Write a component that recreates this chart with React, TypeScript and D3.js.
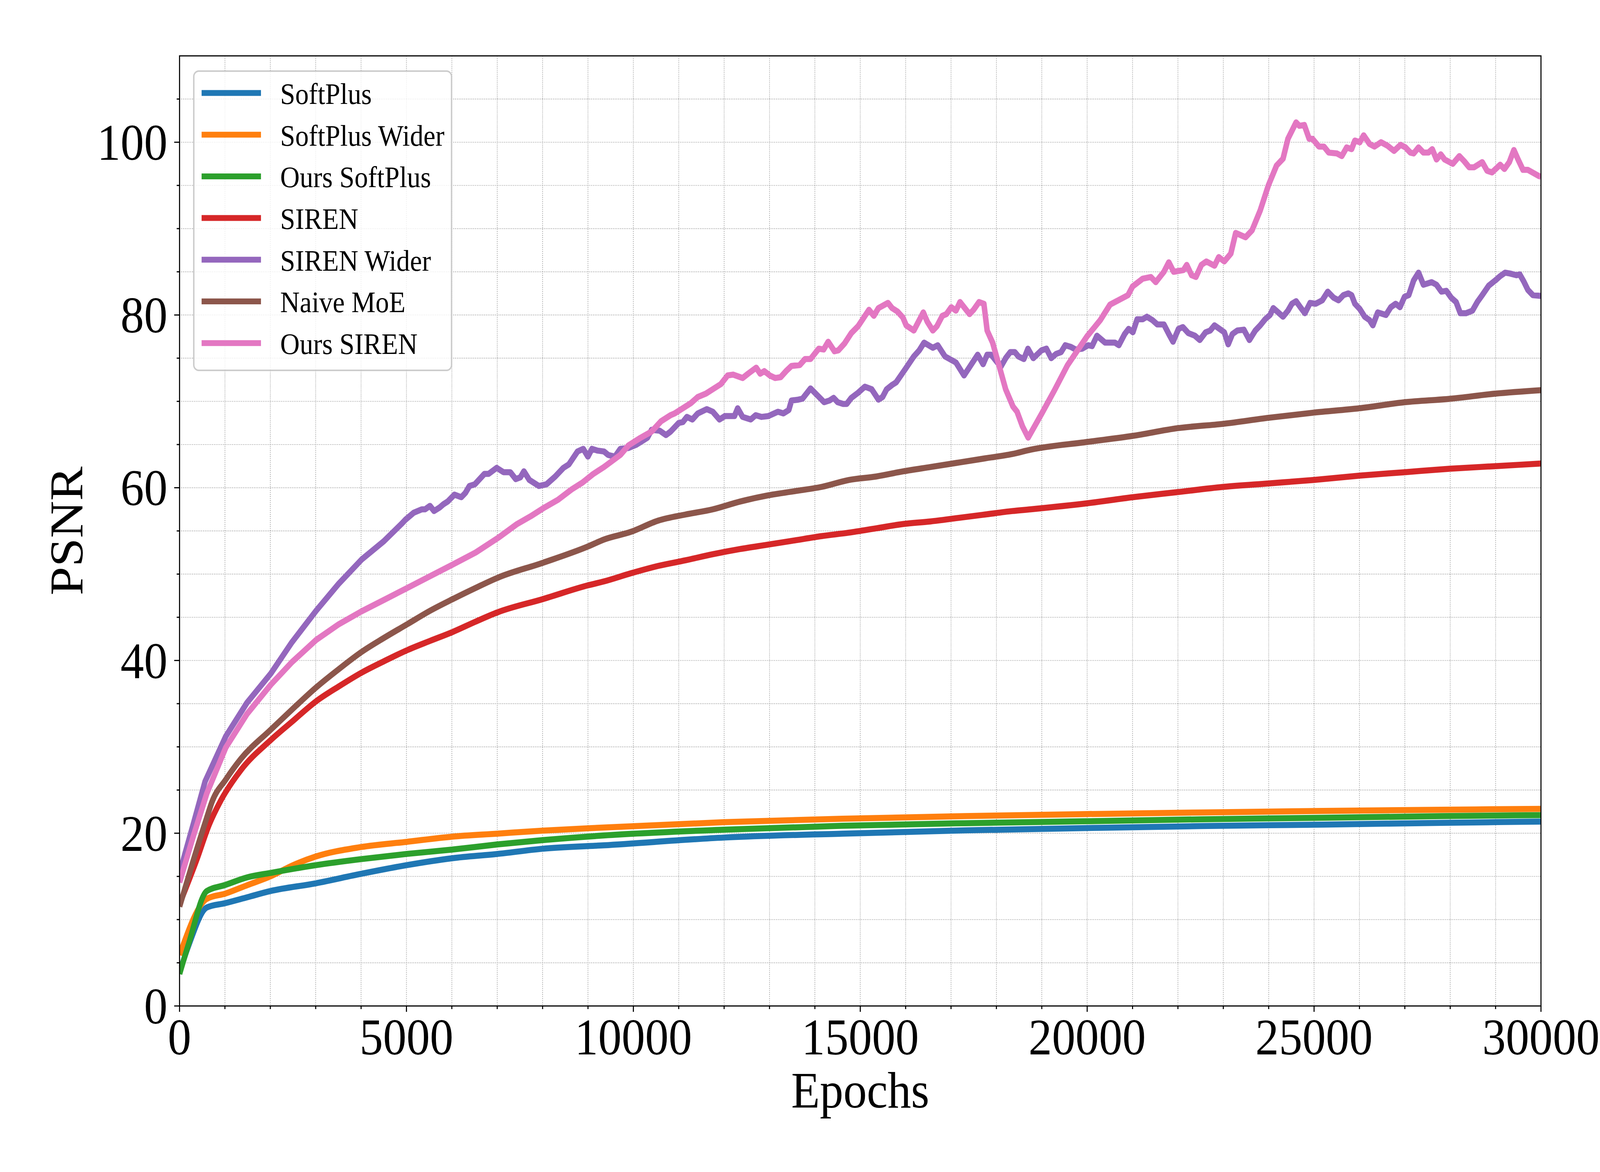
import * as d3 from "d3";

// PSNR vs epochs
const softPlus: [number, number][] = [
  [0, 3.9], [200, 7.0], [600, 11.4], [1000, 11.9], [1500, 12.6], [2000, 13.3], [3000, 14.2],
  [4000, 15.3], [5000, 16.3], [6000, 17.1], [7000, 17.6], [8000, 18.2], [9350, 18.6],
  [12000, 19.5], [14600, 19.95], [17300, 20.33], [19900, 20.59], [22500, 20.83],
  [25200, 21.0], [27800, 21.2], [30000, 21.35],
];

const softPlusWider: [number, number][] = [
  [0, 5.9], [600, 12.4], [1000, 13.0], [1500, 14.0], [2000, 15.0], [2500, 16.3], [3000, 17.3],
  [4000, 18.4], [5000, 19.0], [6000, 19.6], [7000, 19.95], [8000, 20.3], [9350, 20.66],
  [12000, 21.28], [14600, 21.68], [17300, 21.98], [19900, 22.21], [22500, 22.4],
  [25200, 22.58], [27800, 22.72], [30000, 22.82],
];

const oursSoftPlus: [number, number][] = [
  [0, 3.7], [200, 7.2], [600, 13.3], [1000, 14.0], [1500, 14.9], [2000, 15.4], [3000, 16.3],
  [4000, 17.0], [5000, 17.6], [6000, 18.1], [7000, 18.7], [8000, 19.2], [9350, 19.74],
  [12000, 20.41], [14600, 20.86], [17300, 21.16], [19900, 21.38], [22500, 21.61],
  [25200, 21.79], [27800, 21.98], [30000, 22.1],
];

const siren: [number, number][] = [
  [0, 11.8], [383, 17.0], [653, 21.0], [900, 23.7], [1350, 27.3], [2012, 30.8], [2475, 32.9],
  [3015, 35.3], [3510, 37.0], [4014, 38.6], [4500, 39.9], [5018, 41.2], [5535, 42.3],
  [6017, 43.3], [6525, 44.5], [7020, 45.6], [8000, 47.1], [9000, 48.7], [9350, 49.15],
  [9950, 50.1], [10550, 50.95], [11150, 51.6], [11750, 52.3], [12350, 52.9], [12950, 53.4],
  [13550, 53.9], [14150, 54.4], [14750, 54.8], [15350, 55.3], [15950, 55.8], [16550, 56.1],
  [17150, 56.5], [17750, 56.9], [18350, 57.3], [18750, 57.5], [20000, 58.2], [21000, 58.9],
  [22000, 59.5], [23000, 60.1], [24000, 60.5], [25000, 60.9], [26000, 61.4], [27000, 61.8],
  [28000, 62.2], [29000, 62.5], [30000, 62.8],
];

const sirenWider: [number, number][] = [
  [0, 15.4], [300, 21.0], [563, 26.0], [1017, 31.2], [1485, 35.1], [2012, 38.5], [2475, 42.1],
  [3015, 45.8], [3510, 48.9], [4014, 51.7], [4500, 53.8], [4888, 55.8], [4978, 56.3],
  [5158, 57.1], [5338, 57.5], [5410, 57.5], [5518, 57.9], [5608, 57.3], [5728, 57.7],
  [5818, 58.1], [5908, 58.4], [6058, 59.2], [6208, 58.9], [6298, 59.4], [6388, 60.2],
  [6508, 60.4], [6718, 61.6], [6808, 61.6], [6988, 62.3], [7138, 61.8], [7288, 61.8],
  [7408, 61.0], [7510, 61.2], [7588, 61.9], [7708, 60.9], [7918, 60.2], [8086, 60.4],
  [8278, 61.3], [8458, 62.3], [8578, 62.7], [8770, 64.2], [8896, 64.5], [8998, 63.6],
  [9088, 64.5], [9208, 64.3], [9353, 64.2], [9443, 63.8], [9593, 63.6], [9713, 64.5],
  [9892, 64.6], [10072, 65.0], [10162, 65.3], [10311, 65.8], [10401, 66.7], [10581, 66.6],
  [10719, 66.1], [10820, 66.5], [11000, 67.5], [11090, 67.6], [11180, 68.2], [11300, 67.9],
  [11419, 68.6], [11617, 69.1], [11749, 68.8], [11898, 67.9], [12018, 68.3], [12228, 68.3],
  [12299, 69.2], [12407, 68.2], [12587, 67.9], [12695, 68.4], [12826, 68.2], [12976, 68.3],
  [13186, 68.8], [13305, 68.6], [13425, 69.0], [13485, 70.1], [13635, 70.2], [13725, 70.3],
  [13904, 71.5], [14054, 70.7], [14204, 69.9], [14323, 70.1], [14413, 70.4], [14503, 69.9],
  [14623, 69.7], [14701, 69.7], [14802, 70.4], [14952, 71.0], [15102, 71.7], [15252, 71.4],
  [15401, 70.2], [15491, 70.5], [15581, 71.4], [15701, 71.9], [15790, 72.2], [16000, 73.8],
  [16180, 75.2], [16299, 75.9], [16407, 76.8], [16599, 76.2], [16707, 76.5], [16868, 75.2],
  [17108, 74.5], [17287, 73.0], [17437, 74.2], [17587, 75.4], [17707, 74.3], [17796, 75.4],
  [17886, 75.4], [18096, 74.0], [18204, 75.0], [18305, 75.7], [18407, 75.7], [18485, 75.2],
  [18605, 74.9], [18695, 76.1], [18813, 75.0], [18993, 75.9], [19101, 76.1], [19209, 75.0],
  [19317, 75.5], [19424, 75.7], [19518, 76.5], [19640, 76.3], [19748, 76.0], [19892, 76.1],
  [20022, 76.5], [20108, 76.4], [20216, 77.6], [20396, 76.8], [20611, 76.8], [20698, 76.5],
  [20827, 77.8], [20914, 78.4], [21007, 78.0], [21101, 79.5], [21223, 79.5], [21316, 79.8],
  [21439, 79.4], [21547, 78.9], [21691, 78.9], [21799, 77.8], [21892, 76.9], [22014, 78.4],
  [22108, 78.6], [22230, 77.9], [22374, 77.6], [22482, 77.1], [22611, 78.0], [22712, 78.2],
  [22806, 78.8], [22914, 78.4], [23021, 78.0], [23108, 76.6], [23201, 77.8], [23309, 78.2],
  [23453, 78.3], [23575, 77.1], [23705, 78.2], [23813, 78.8], [23921, 79.5], [24029, 80.0],
  [24101, 80.8], [24209, 80.3], [24316, 79.8], [24424, 80.5], [24511, 81.3], [24604, 81.6],
  [24698, 80.9], [24798, 80.2], [24913, 81.4], [25036, 81.3], [25180, 81.7], [25302, 82.7],
  [25431, 82.0], [25539, 81.7], [25647, 82.3], [25755, 82.5], [25827, 82.3], [25899, 81.3],
  [26007, 80.7], [26115, 79.8], [26223, 79.4], [26295, 78.8], [26403, 80.3], [26583, 80.0],
  [26691, 80.9], [26798, 81.3], [26892, 80.9], [26993, 82.1], [27086, 82.3], [27194, 84.0],
  [27302, 84.9], [27410, 83.5], [27590, 83.8], [27698, 83.5], [27806, 82.7], [27914, 82.8],
  [28022, 82.0], [28129, 81.5], [28223, 80.2], [28345, 80.2], [28489, 80.5], [28597, 81.5],
  [28705, 82.3], [28849, 83.4], [28993, 84.0], [29101, 84.5], [29209, 84.9], [29317, 84.8],
  [29460, 84.6], [29532, 84.7], [29619, 83.9], [29712, 82.9], [29820, 82.3], [30000, 82.2],
];

const naiveMoE: [number, number][] = [
  [0, 11.5], [300, 16.8], [600, 21.8], [720, 23.7], [1017, 26.2], [1350, 28.6], [2012, 32.0],
  [2475, 34.3], [3015, 36.9], [3510, 39.0], [4014, 41.0], [4500, 42.6], [5018, 44.2],
  [5535, 45.8], [6017, 47.1], [6525, 48.4], [7020, 49.6], [8000, 51.3], [9000, 53.2],
  [9350, 54.0], [9950, 54.9], [10550, 56.2], [11150, 56.9], [11750, 57.5], [12350, 58.4],
  [12950, 59.1], [13550, 59.6], [14150, 60.1], [14750, 60.9], [15350, 61.3], [15950, 61.9],
  [16550, 62.4], [17150, 62.9], [17750, 63.4], [18350, 63.9], [18750, 64.4], [20000, 65.3],
  [21000, 66.0], [22000, 66.9], [23000, 67.4], [24000, 68.1], [25000, 68.7], [26000, 69.2],
  [27000, 69.9], [28000, 70.3], [29000, 70.9], [30000, 71.3],
];

const oursSiren: [number, number][] = [
  [0, 14.3], [300, 19.6], [600, 24.6], [1017, 29.9], [1485, 33.8], [2012, 37.2], [2475, 39.8],
  [3015, 42.4], [3510, 44.2], [4014, 45.7], [4500, 47.0], [5018, 48.4], [5535, 49.8],
  [6017, 51.1], [6525, 52.5], [7020, 54.2], [7438, 55.8], [7738, 56.7], [8038, 57.7],
  [8338, 58.6], [8638, 59.8], [8878, 60.6], [9118, 61.6], [9353, 62.4], [9533, 63.1],
  [9713, 63.8], [9892, 64.9], [10132, 65.7], [10401, 66.5], [10611, 67.7], [10820, 68.4],
  [10910, 68.6], [11090, 69.2], [11269, 69.8], [11419, 70.5], [11599, 70.9], [11749, 71.4],
  [11928, 72.0], [12078, 73.0], [12198, 73.1], [12407, 72.7], [12527, 73.2], [12707, 73.9],
  [12796, 73.2], [12886, 73.5], [13006, 73.0], [13125, 72.7], [13245, 72.8], [13365, 73.5],
  [13485, 74.1], [13665, 74.2], [13784, 74.9], [13904, 74.9], [14084, 76.1], [14192, 76.0],
  [14293, 76.9], [14431, 75.8], [14515, 75.9], [14653, 76.7], [14802, 77.9], [14952, 78.7],
  [15192, 80.6], [15299, 79.9], [15401, 80.8], [15611, 81.4], [15701, 80.8], [15820, 80.4],
  [15940, 79.7], [16012, 78.8], [16180, 78.2], [16389, 80.3], [16479, 79.2], [16599, 78.2],
  [16689, 78.7], [16808, 79.9], [16898, 80.1], [17006, 80.9], [17108, 80.5], [17198, 81.5],
  [17407, 80.1], [17497, 80.6], [17617, 81.5], [17724, 81.3], [17796, 78.2], [17916, 76.8],
  [18066, 74.0], [18204, 71.4], [18365, 69.4], [18455, 68.8], [18575, 67.1], [18700, 65.8],
  [19000, 68.6], [19281, 71.3], [19568, 74.2], [19993, 77.5], [20288, 79.4], [20504, 81.2],
  [20684, 81.7], [20900, 82.3], [21000, 83.3], [21223, 84.2], [21403, 84.4], [21511, 83.8],
  [21691, 85.0], [21799, 86.1], [21906, 85.0], [22122, 85.2], [22194, 85.8], [22302, 84.6],
  [22396, 84.4], [22518, 85.8], [22626, 86.2], [22806, 85.7], [22899, 86.7], [23021, 86.2],
  [23165, 87.1], [23273, 89.5], [23489, 89.0], [23633, 89.8], [23813, 92.1], [23993, 95.0],
  [24173, 97.3], [24316, 98.1], [24424, 100.4], [24604, 102.3], [24676, 101.9],
  [24784, 102.0], [24892, 100.4], [24964, 100.4], [25108, 99.5], [25216, 99.5], [25324, 98.8],
  [25503, 98.7], [25611, 98.4], [25719, 99.4], [25827, 99.2], [25899, 100.2], [26007, 100.0],
  [26093, 100.8], [26223, 99.8], [26331, 99.5], [26475, 100.0], [26618, 99.6], [26762, 99.0],
  [26906, 99.7], [27014, 99.4], [27122, 98.8], [27194, 98.7], [27302, 99.4], [27410, 98.8],
  [27518, 98.8], [27604, 99.2], [27698, 98.0], [27791, 98.6], [27877, 98.0], [28057, 97.5],
  [28201, 98.4], [28309, 97.8], [28417, 97.1], [28525, 97.1], [28705, 97.7], [28813, 96.7],
  [28921, 96.5], [29101, 97.4], [29194, 96.9], [29302, 97.7], [29403, 99.1], [29496, 98.0],
  [29604, 96.8], [29712, 96.8], [29950, 96.1], [30000, 96.0],
];

const seriesNames = [
  "SoftPlus", "SoftPlus Wider", "Ours SoftPlus", "SIREN", "SIREN Wider", "Naive MoE", "Ours SIREN",
];
const seriesData = [softPlus, softPlusWider, oursSoftPlus, siren, sirenWider, naiveMoE, oursSiren];
const smoothSeries = [true, true, true, true, false, true, false];
const colors = ["#1f77b4", "#ff7f0e", "#2ca02c", "#d62728", "#9467bd", "#8c564b", "#e377c2"];

const xMajor = [0, 5000, 10000, 15000, 20000, 25000, 30000];
const yMajor = [0, 20, 40, 60, 80, 100];

const W = 4500;
const H = 3000;
const M = { left: 505, right: 4334, top: 143, bottom: 2575 };
const FONT = "'Liberation Serif', 'Times New Roman', serif";
const LINE_W = 15.5;

export default function App() {
  const x = d3.scaleLinear().domain([0, 30000]).range([M.left, M.right]);
  const y = d3.scaleLinear().domain([0, 110]).range([M.bottom, M.top]);

  const xMinor = d3.range(0, 30001, 1000).filter((v) => v % 5000 !== 0);
  const yMinor = d3.range(0, 110, 5).filter((v) => v % 20 !== 0);
  const xGrid = d3.range(1000, 30000, 1000);
  const yGrid = d3.range(5, 110, 5);

  const lineFor = (smooth: boolean) =>
    d3
      .line<[number, number]>()
      .x((d) => x(d[0]))
      .y((d) => y(d[1]))
      .curve(smooth ? d3.curveMonotoneX : d3.curveLinear);

  const legend = { x: 545, y: 182, w: 725, h: 766, row0: 238, rowGap: 106.7 };

  return (
    <>
      <style>{`html,body{margin:0;padding:0;overflow:hidden;background:#fff}`}</style>
      <svg
        viewBox={`0 0 ${W} ${H}`}
        preserveAspectRatio="none"
        style={{ display: "block", width: "100vw", height: "100vh" }}
      >
        <rect width={W} height={H} fill="#fff" />
        <defs>
          <clipPath id="plotClip">
            <rect x={M.left} y={M.top} width={M.right - M.left} height={M.bottom - M.top} />
          </clipPath>
        </defs>

        {/* grid */}
        <g stroke="#8f8f8f" strokeWidth={1.9} strokeDasharray="1.9 3.2">
          {xGrid.map((v) => (
            <line key={`gx${v}`} x1={x(v)} x2={x(v)} y1={M.top} y2={M.bottom} />
          ))}
          {yGrid.map((v) => (
            <line key={`gy${v}`} x1={M.left} x2={M.right} y1={y(v)} y2={y(v)} />
          ))}
        </g>

        {/* series */}
        <g clipPath="url(#plotClip)" fill="none" strokeLinejoin="round">
          {seriesData.map((s, i) => (
            <path
              key={seriesNames[i]}
              d={lineFor(smoothSeries[i])(s) ?? ""}
              stroke={colors[i]}
              strokeWidth={LINE_W}
            />
          ))}
        </g>

        {/* spines */}
        <rect
          x={M.left}
          y={M.top}
          width={M.right - M.left}
          height={M.bottom - M.top}
          fill="none"
          stroke="#000"
          strokeWidth={3}
        />

        {/* ticks */}
        <g stroke="#000" strokeWidth={3}>
          {xMajor.map((v) => (
            <line key={`xt${v}`} x1={x(v)} x2={x(v)} y1={M.bottom} y2={M.bottom + 15} />
          ))}
          {xMinor.map((v) => (
            <line key={`xm${v}`} x1={x(v)} x2={x(v)} y1={M.bottom} y2={M.bottom + 8} />
          ))}
          {yMajor.map((v) => (
            <line key={`yt${v}`} x1={M.left - 15} x2={M.left} y1={y(v)} y2={y(v)} />
          ))}
          {yMinor.map((v) => (
            <line key={`ym${v}`} x1={M.left - 8} x2={M.left} y1={y(v)} y2={y(v)} />
          ))}
        </g>

        <g fontFamily={FONT} fontSize={132} fill="#000">
          {xMajor.map((v) => (
            <text key={`xl${v}`} x={x(v)} y={2699} textAnchor="middle">
              {v}
            </text>
          ))}
          {yMajor.map((v) => (
            <text key={`yl${v}`} x={471} y={y(v) + 45} textAnchor="end">
              {v}
            </text>
          ))}
          <text x={(M.left + M.right) / 2} y={2835} textAnchor="middle">
            Epochs
          </text>
          <text
            transform={`translate(232,${(M.top + M.bottom) / 2}) rotate(-90)`}
            textAnchor="middle"
          >
            PSNR
          </text>
        </g>

        {/* legend */}
        <g>
          <rect
            x={legend.x}
            y={legend.y}
            width={legend.w}
            height={legend.h}
            rx={14}
            fill="#fff"
            fillOpacity={0.8}
            stroke="#cccccc"
            strokeWidth={4}
          />
          {seriesNames.map((name, i) => {
            const cy = legend.row0 + i * legend.rowGap;
            return (
              <g key={`lg${name}`}>
                <line x1={567} x2={734} y1={cy} y2={cy} stroke={colors[i]} strokeWidth={15} />
                <text x={788} y={cy + 28} fontFamily={FONT} fontSize={76} fill="#000">
                  {name}
                </text>
              </g>
            );
          })}
        </g>
      </svg>
    </>
  );
}
